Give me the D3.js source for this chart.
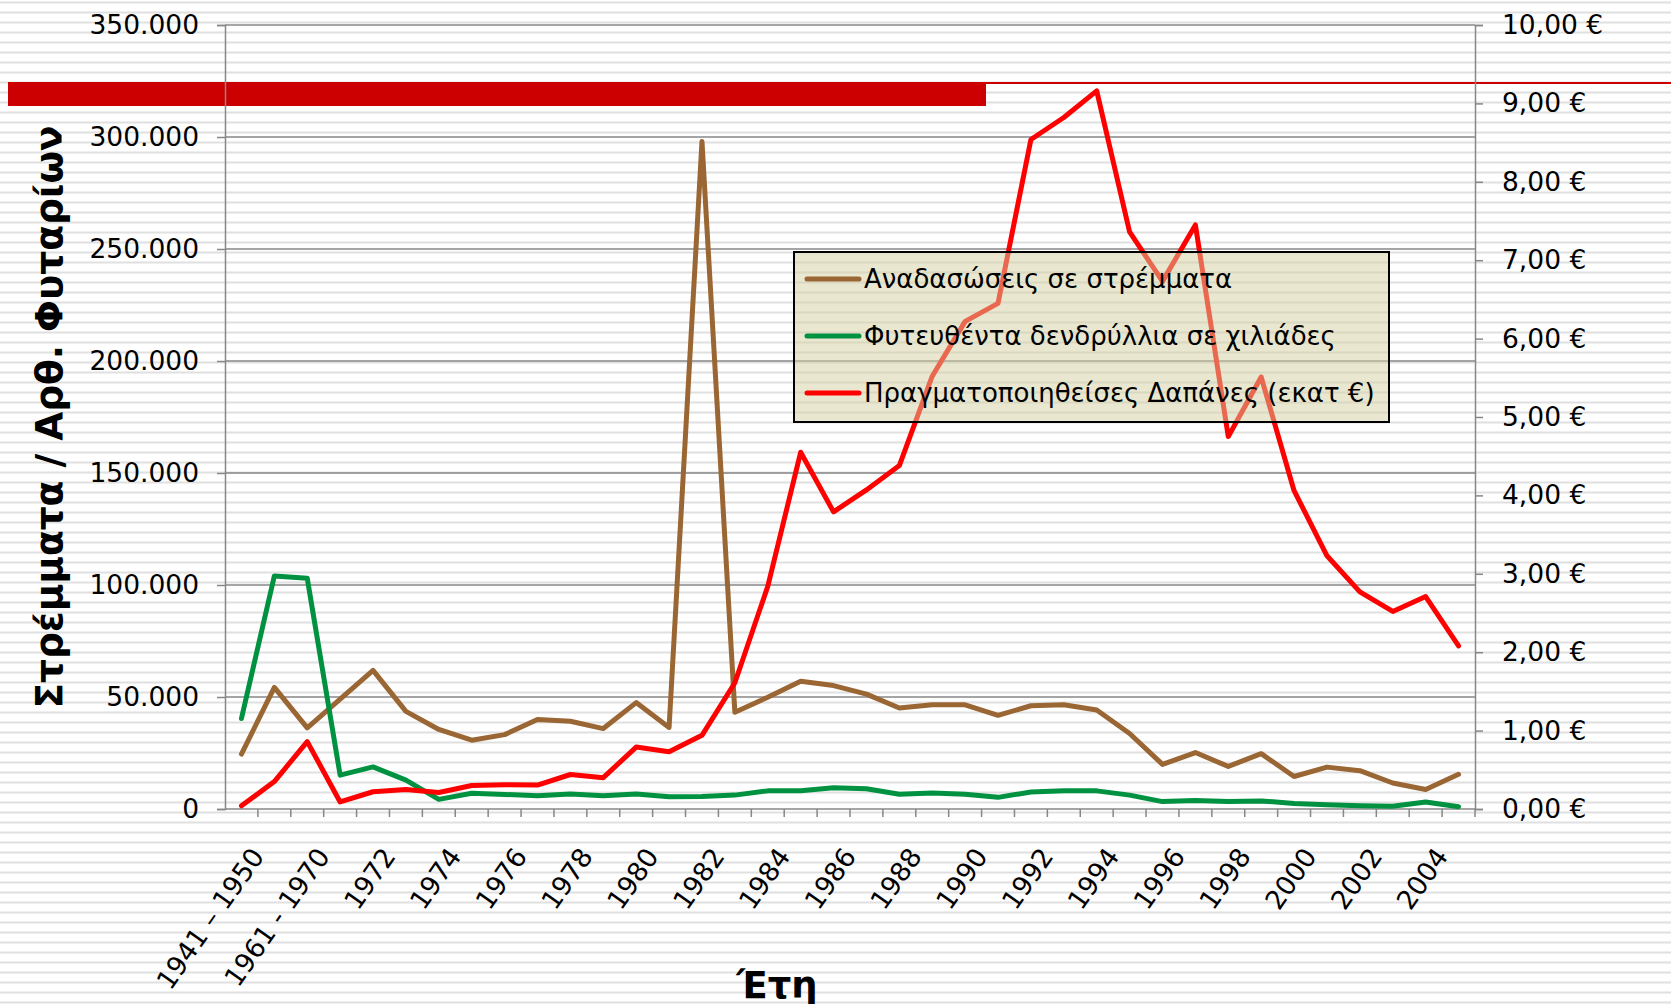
<!DOCTYPE html>
<html>
<head>
<meta charset="utf-8">
<script src="https://cdn.jsdelivr.net/npm/d3@7"></script>
<style>
  body { margin: 0; background: #fff; }
  svg { display: block; font-family: "DejaVu Sans", Verdana, sans-serif; }
</style>
</head>
<body>
<div id="chart"></div>
<script>
const categories = [
  "1941 – 1950", "1951 - 1960", "1961 - 1970",
  "1971", "1972", "1973", "1974", "1975", "1976", "1977", "1978", "1979", "1980",
  "1981", "1982", "1983", "1984", "1985", "1986", "1987", "1988", "1989", "1990",
  "1991", "1992", "1993", "1994", "1995", "1996", "1997", "1998", "1999", "2000",
  "2001", "2002", "2003", "2004", "2005"
];
// Αναδασώσεις σε στρέμματα
const reforestation = [
  24500, 54300, 36200, 49000, 61900, 43600, 35500, 30700, 33200, 40000,
  39200, 35900, 47500, 36400, 298000, 43200, 49900, 57000, 55100, 51300,
  45100, 46500, 46500, 41800, 46100, 46500, 44200, 33700, 19900, 25200,
  19000, 24700, 14500, 18700, 17100, 11600, 8700, 15500
];
// Φυτευθέντα δενδρύλλια σε χιλιάδες
const seedlings = [
  40400, 104000, 103000, 15100, 18800, 12900, 4300, 7000, 6500, 5900,
  6700, 5900, 6700, 5500, 5600, 6200, 8100, 8100, 9500, 9000,
  6600, 7100, 6600, 5200, 7600, 8100, 8100, 6200, 3300, 3800,
  3300, 3600, 2500, 1900, 1500, 1200, 3100, 1000
];
// Πραγματοποιηθείσες Δαπάνες (εκατ €)
const expenses = [
  0.04, 0.35, 0.86, 0.09, 0.22, 0.25, 0.21, 0.30, 0.31, 0.305,
  0.44, 0.40, 0.79, 0.73, 0.94, 1.61, 2.84, 4.55, 3.79, 4.07,
  4.38, 5.52, 6.22, 6.45, 8.54, 8.82, 9.16, 7.36, 6.73, 7.45,
  4.75, 5.51, 4.06, 3.23, 2.77, 2.52, 2.71, 2.08
];
const seriesNames = [
  "Αναδασώσεις σε στρέμματα",
  "Φυτευθέντα δενδρύλλια σε χιλιάδες",
  "Πραγματοποιηθείσες Δαπάνες (εκατ €)"
];
const leftTicks = [0, 50000, 100000, 150000, 200000, 250000, 300000, 350000];
const rightTicks = [0, 1, 2, 3, 4, 5, 6, 7, 8, 9, 10];
const yTitle = "Στρέμματα / Αρθ. Φυταρίων";
const xTitle = "Έτη";

const fullWidth = 1671;
const fullHeight = 1004;
const margin = { top: 25, right: 196, bottom: 195, left: 225 };
const width = fullWidth - margin.left - margin.right;
const height = fullHeight - margin.top - margin.bottom;

const locale = d3.formatLocale({
  decimal: ",", thousands: ".", grouping: [3], currency: ["", " €"]
});
const fmtLeft = locale.format(",.0f");
const fmtRight = locale.format("$,.2f");

const gridColor = "#878787";
const colors = ["#9a6634", "#009240", "#ff0000"];

const svg = d3.select("#chart")
  .append("svg")
  .attr("width", fullWidth)
  .attr("height", fullHeight);

// striped background
const pattern = svg.append("defs").append("pattern")
  .attr("id", "stripes")
  .attr("patternUnits", "userSpaceOnUse")
  .attr("width", 10)
  .attr("height", 10);
pattern.append("rect").attr("width", 10).attr("height", 10).attr("fill", "#fff");
pattern.append("rect").attr("y", 1).attr("width", 10).attr("height", 1).attr("fill", "#efefef");
pattern.append("rect").attr("y", 2).attr("width", 10).attr("height", 1).attr("fill", "#e0e0e0");
pattern.append("rect").attr("y", 3).attr("width", 10).attr("height", 1).attr("fill", "#efefef");

svg.append("rect")
  .attr("width", fullWidth)
  .attr("height", fullHeight)
  .attr("fill", "url(#stripes)");

// red banner bar + thin line
svg.append("rect")
  .attr("x", 8).attr("y", 82)
  .attr("width", 978).attr("height", 24)
  .attr("fill", "#cc0000");
svg.append("rect")
  .attr("x", 986).attr("y", 82)
  .attr("width", fullWidth - 986).attr("height", 2)
  .attr("fill", "#cc0000");

const g = svg.append("g")
  .attr("transform", `translate(${margin.left}, ${margin.top})`);

const x = d3.scaleBand().domain(categories).range([0, width]).padding(0);
const yLeft = d3.scaleLinear().domain([0, 350000]).range([height, 0]);
const yRight = d3.scaleLinear().domain([0, 10]).range([height, 0]);
const cx = c => x(c) + x.bandwidth() / 2;

// gridlines
g.append("g")
  .selectAll("line")
  .data(leftTicks.filter(d => d > 0))
  .enter()
  .append("line")
  .attr("x1", 0)
  .attr("x2", width)
  .attr("y1", d => yLeft(d))
  .attr("y2", d => yLeft(d))
  .style("stroke", gridColor)
  .style("stroke-width", 1.5);

// left axis
const leftAxis = g.append("g")
  .call(d3.axisLeft(yLeft).tickValues(leftTicks).tickSize(8).tickPadding(18).tickFormat(fmtLeft));
leftAxis.select(".domain").style("stroke", gridColor).style("stroke-width", 1.5);
leftAxis.selectAll(".tick line").style("stroke", gridColor).style("stroke-width", 1.5);
leftAxis.selectAll(".tick text")
  .style("font-size", "26.5px")
  .style("font-family", "DejaVu Sans")
  .style("fill", "#000");

// right axis
const rightAxis = g.append("g")
  .attr("transform", `translate(${width}, 0)`)
  .call(d3.axisRight(yRight).tickValues(rightTicks).tickSize(8).tickPadding(19).tickFormat(fmtRight));
rightAxis.select(".domain").style("stroke", gridColor).style("stroke-width", 1.5);
rightAxis.selectAll(".tick line").style("stroke", gridColor).style("stroke-width", 1.5);
rightAxis.selectAll(".tick text")
  .style("font-size", "26.5px")
  .style("font-family", "DejaVu Sans")
  .style("fill", "#000");

// bottom axis (ticks between categories, every other label)
const bottom = g.append("g").attr("transform", `translate(0, ${height})`);
bottom.append("line")
  .attr("x1", 0).attr("x2", width)
  .style("stroke", gridColor).style("stroke-width", 1.5);
bottom.selectAll(".tickmark")
  .data(categories.slice(1).concat(["__end"]))
  .enter()
  .append("line")
  .attr("class", "tickmark")
  .attr("x1", d => d === "__end" ? width : x(d))
  .attr("x2", d => d === "__end" ? width : x(d))
  .attr("y1", 0)
  .attr("y2", 8)
  .style("stroke", gridColor)
  .style("stroke-width", 1.5);
bottom.selectAll(".label")
  .data(categories.filter((d, i) => i % 2 === 0))
  .enter()
  .append("text")
  .attr("class", "label")
  .attr("transform", d => `translate(${cx(d) + 16}, 42) rotate(-55)`)
  .attr("text-anchor", "end")
  .attr("dy", "0.35em")
  .style("font-size", "26.5px")
  .text(d => d);

// series
const series = [
  { values: reforestation, y: yLeft },
  { values: seedlings, y: yLeft },
  { values: expenses, y: yRight }
];
series.forEach((s, k) => {
  const line = d3.line()
    .x((d, i) => cx(categories[i]))
    .y(d => s.y(d));
  g.append("path")
    .datum(s.values)
    .attr("d", line)
    .style("fill", "none")
    .style("stroke", colors[k])
    .style("stroke-width", 5)
    .style("stroke-linejoin", "round")
    .style("stroke-linecap", "round");
});

// legend
const legend = svg.append("g").attr("transform", "translate(794, 252)");
legend.append("rect")
  .attr("width", 595)
  .attr("height", 170)
  .style("fill", "#d4d0a0")
  .style("fill-opacity", 0.5)
  .style("stroke", "#000")
  .style("stroke-width", 2);
seriesNames.forEach((name, k) => {
  const yy = 27 + k * 57;
  legend.append("line")
    .attr("x1", 13).attr("x2", 65)
    .attr("y1", yy).attr("y2", yy)
    .style("stroke", colors[k])
    .style("stroke-width", 5)
    .style("stroke-linecap", "round");
  legend.append("text")
    .attr("x", 70)
    .attr("y", yy)
    .attr("dy", "0.35em")
    .style("font-size", "26px")
    .text(name);
});

// axis titles
svg.append("text")
  .attr("transform", `translate(62, ${margin.top + height / 2}) rotate(-90)`)
  .attr("text-anchor", "middle")
  .style("font-size", "37.5px")
  .style("font-weight", "bold")
  .text(yTitle);

svg.append("text")
  .attr("x", 777)
  .attr("y", 998)
  .attr("text-anchor", "middle")
  .style("font-size", "37px")
  .style("font-weight", "bold")
  .text(xTitle);
</script>
</body>
</html>
